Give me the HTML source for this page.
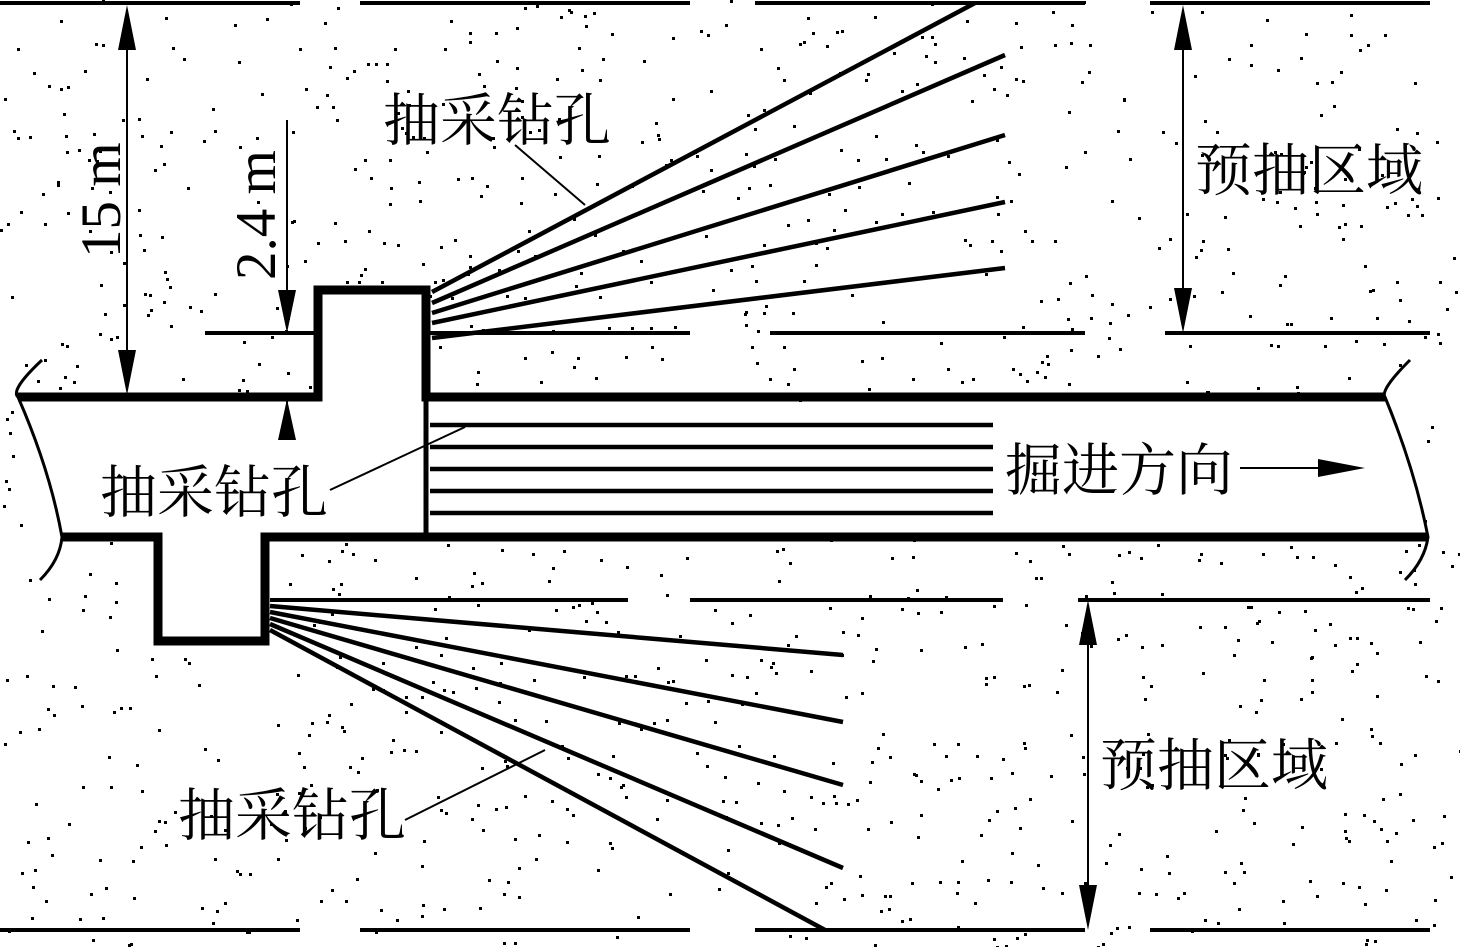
<!DOCTYPE html><html><head><style>body{margin:0;background:#fff}svg{display:block}text{font-family:"Liberation Serif","Noto Serif CJK SC",serif;font-size:57px;fill:#000}</style></head><body>
<svg id="s" width="1460" height="947" viewBox="0 0 1460 947" xmlns="http://www.w3.org/2000/svg">
<g id="dots"></g>
<g stroke="#000" fill="none" stroke-linecap="butt">
<g stroke-width="4">
<path d="M0 3H300M360 3H690M755 3H1085M1150 3H1430"/>
<path d="M0 930H300M360 930H690M755 930H1085M1150 930H1430"/>
<path d="M205 333H315M430 333H690M770 333H1085M1165 333H1430"/>
<path d="M270 600H628M690 600H1003M1078 600H1430"/>
</g>
<path stroke-width="9" d="M18 397H318V290H426V397H1385"/>
<path stroke-width="5" d="M426 397V537"/>
<path stroke-width="9" d="M62 537H158V641H265V537H1428"/>
<path stroke-width="3" d="M42 360Q10 390 18 397Q50 470 62 537Q60 560 40 580"/>
<path stroke-width="3" d="M1410 360Q1380 390 1385 397Q1415 470 1428 537Q1425 560 1405 580"/>
<g stroke-width="4.5">
<path d="M432 292L975 3M432 303L1005 55M432 313L1005 135M432 323L1005 202M432 338L1005 268"/>
<path d="M430 425H993M430 447H993M430 469H993M430 491H993M430 513H993"/>
<path d="M270 606L843 655M270 612L843 722M270 618L843 785M270 624L843 868M270 630L825 930"/>
</g>
<g stroke-width="2">
<path d="M515 145L585 205M330 490L465 427M405 820L545 750"/>
<path d="M127 40V360M287 120V300M287 397V440M1183 40V300M1088 640V895"/>
<path d="M1240 468H1330"/>
</g>
</g>
<g fill="#000">
<path d="M127 5L118 50H136Z M127 395L118 350H136Z"/>
<path d="M287 333L278 290H296Z M287 399L278 440H296Z"/>
<path d="M1183 5L1174 50H1192Z M1183 333L1174 288H1192Z"/>
<path d="M1088 600L1079 645H1097Z M1088 930L1079 885H1097Z"/>
<path d="M1365 468L1318 459V477Z"/>
</g>
<text x="383" y="140">抽采钻孔</text>
<text x="100" y="512">抽采钻孔</text>
<text x="178" y="835">抽采钻孔</text>
<text x="1195" y="190">预抽区域</text>
<text x="1100" y="785">预抽区域</text>
<text x="1005" y="490">掘进方向</text>
<text transform="translate(120,258) rotate(-90)">15 m</text>
<text transform="translate(275,280) rotate(-90)">2.4 m</text>
</svg>
<script>
var g=document.getElementById('dots'),s=12345;function r(){s=(s*16807)%2147483647;return s/2147483647;}
var h='';for(var i=0;i<1300;i++){var x=r()*1460,y=r()*947;if(y>400&&y<534&&x>20&&x<1420)continue;if(x>318&&x<426&&y>290&&y<400)continue;if(x>158&&x<265&&y>537&&y<641)continue;h+='<rect x="'+x.toFixed(0)+'" y="'+y.toFixed(0)+'" width="3" height="3"/>';}
g.innerHTML=h;
</script>
</body></html>
